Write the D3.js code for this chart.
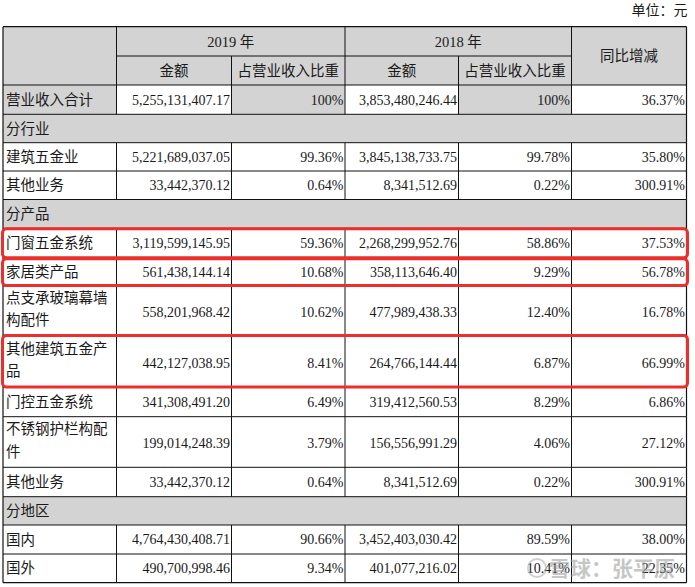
<!DOCTYPE html>
<html><head><meta charset="utf-8">
<script src="https://cdn.jsdelivr.net/npm/d3@7"></script>
<style>
html,body{margin:0;padding:0;background:#fff;}
svg{display:block;}
</style></head>
<body><svg id="c" width="695" height="587"></svg>
<script>
// ---- data ----
const unitLabel = "单位：元";
const yearLabels = ["2019 年", "2018 年"];
const subHeaders = ["金额", "占营业收入比重"];
const yoyHeader = "同比增减";
const rowLabels = ["营业收入合计","分行业","建筑五金业","其他业务","分产品","门窗五金系统","家居类产品","点支承玻璃幕墙构配件","其他建筑五金产品","门控五金系统","不锈钢护栏构配件","其他业务","分地区","国内","国外"];
const sectionRows = ["分行业","分产品","分地区"];
const amount2019 = [5255131407.17,null,5221689037.05,33442370.12,null,3119599145.95,561438144.14,558201968.42,442127038.95,341308491.20,199014248.39,33442370.12,null,4764430408.71,490700998.46];
const ratio2019  = [100,null,99.36,0.64,null,59.36,10.68,10.62,8.41,6.49,3.79,0.64,null,90.66,9.34];
const amount2018 = [3853480246.44,null,3845138733.75,8341512.69,null,2268299952.76,358113646.40,477989438.33,264766144.44,319412560.53,156556991.29,8341512.69,null,3452403030.42,401077216.02];
const ratio2018  = [100,null,99.78,0.22,null,58.86,9.29,12.40,6.87,8.29,4.06,0.22,null,89.59,10.41];
const yoyChange  = [36.37,null,35.80,300.91,null,37.53,56.78,16.78,66.99,6.86,27.12,300.91,null,38.00,22.35];
const highlighted = ["门窗五金系统","家居类产品","其他建筑五金产品"];
const watermark = "雪球：张平原";

// ---- layout ----
const rowHeights = [29.3,28.4,28.3,28.5,28.8,30,27.7,49,52.5,29.2,50.6,29.4,28.3,29,28.7];
const colEdges = [3,116.5,231.5,345,458.5,571.5,686.5];
const headTop = 26.7, headMid = 56, headBot = 85;
const gray = "#d3d3d3";
const line = "#111";
const numFont = "'Liberation Serif','Times New Roman',serif";
const cjkFont = "'Liberation Serif','Noto Sans CJK SC',sans-serif";

const svg = d3.select("#c");
const fmtAmt = d3.format(",.2f");
const fmtPct = v => v === 100 ? "100%" : d3.format(".2f")(v) + "%";

// row y positions
const rowY = [];
let acc = headBot;
rowHeights.forEach(h => { rowY.push(acc); acc += h; });
const tableBottom = acc;

const gBg = svg.append("g");
const gTxt = svg.append("g");
const gLines = svg.append("g");

// header backgrounds
gBg.append("rect").attr("x", colEdges[0]).attr("y", headTop).attr("width", colEdges[6]-colEdges[0]).attr("height", headBot-headTop).attr("fill", gray);

// body backgrounds
rowLabels.forEach((lab, i) => {
  const y = rowY[i], h = rowHeights[i];
  if (sectionRows.includes(lab)) {
    gBg.append("rect").attr("x", colEdges[0]).attr("y", y).attr("width", colEdges[6]-colEdges[0]).attr("height", h).attr("fill", gray);
  }
});
// total row: label and ratio cells gray
gBg.append("rect").attr("x", colEdges[0]).attr("y", rowY[0]).attr("width", colEdges[1]-colEdges[0]).attr("height", rowHeights[0]).attr("fill", gray);
[2,4].forEach(c => gBg.append("rect").attr("x", colEdges[c]).attr("y", rowY[0]).attr("width", colEdges[c+1]-colEdges[c]).attr("height", rowHeights[0]).attr("fill", gray));

// header text
function txt(x, y, s, anchor, size, fam) {
  return gTxt.append("text").attr("x", x).attr("y", y).attr("dy", "0.35em")
    .attr("text-anchor", anchor).attr("font-size", size).attr("font-family", fam)
    .attr("fill", "#1a1a1a").text(s);
}
txt(colEdges[6]+1, 10, unitLabel, "end", 14, cjkFont);
yearLabels.forEach((y, k) => {
  const x0 = colEdges[1+2*k], x1 = colEdges[3+2*k];
  txt((x0+x1)/2, (headTop+headMid)/2+0.5, y, "middle", 14.5, cjkFont);
  subHeaders.forEach((s, j) => {
    const a = colEdges[1+2*k+j], b = colEdges[2+2*k+j];
    txt((a+b)/2, (headMid+headBot)/2, s, "middle", 14.5, cjkFont);
  });
});
txt((colEdges[5]+colEdges[6])/2, (headTop+headBot)/2, yoyHeader, "middle", 14.5, cjkFont);

// body text
const cols = [amount2019, ratio2019, amount2018, ratio2018, yoyChange];
const fmts = [fmtAmt, fmtPct, fmtAmt, fmtPct, fmtPct];
const charsPerLine = 7;
rowLabels.forEach((lab, i) => {
  const y = rowY[i], h = rowHeights[i], cy = y + h/2;
  const lines = [];
  for (let k = 0; k < lab.length; k += charsPerLine) lines.push(lab.slice(k, k+charsPerLine));
  const lh = 22.5;
  lines.forEach((l, k) => {
    txt(colEdges[0]+3, cy + (k - (lines.length-1)/2)*lh - (lines.length>1?1.5:0), l, "start", 14.5, cjkFont);
  });
  cols.forEach((arr, c) => {
    const v = arr[i];
    if (v === null || v === undefined) return;
    txt(colEdges[c+2]-1.5, cy + (lines.length>1?1.5:0), fmts[c](v), "end", 14, numFont);
  });
});

// grid lines
const L = (x1,y1,x2,y2,w) => gLines.append("line").attr("x1",x1).attr("y1",y1).attr("x2",x2).attr("y2",y2).attr("stroke",line).attr("stroke-width",w||1);
L(colEdges[0], headTop, colEdges[6], headTop, 1.2);
L(colEdges[1], headMid, colEdges[5], headMid);
L(colEdges[0], headBot, colEdges[6], headBot);
// header verticals
L(colEdges[0], headTop, colEdges[0], headBot, 1.2);
L(colEdges[1], headTop, colEdges[1], headBot);
L(colEdges[3], headTop, colEdges[3], headBot);
L(colEdges[5], headTop, colEdges[5], headBot);
L(colEdges[6], headTop, colEdges[6], headBot, 1.2);
L(colEdges[2], headMid, colEdges[2], headBot);
L(colEdges[4], headMid, colEdges[4], headBot);
rowLabels.forEach((lab, i) => {
  const y = rowY[i], h = rowHeights[i];
  L(colEdges[0], y+h, colEdges[6], y+h, i === rowLabels.length-1 ? 1.2 : 1);
  L(colEdges[0], y, colEdges[0], y+h, 1.2);
  L(colEdges[6], y, colEdges[6], y+h, 1.2);
  if (!sectionRows.includes(lab)) {
    for (let c = 1; c < 6; c++) L(colEdges[c], y, colEdges[c], y+h);
  }
});

// highlight boxes
const gHi = svg.append("g");
rowLabels.forEach((lab, i) => {
  if (!highlighted.includes(lab)) return;
  const y = rowY[i], h = rowHeights[i];
  gHi.append("rect").attr("x", colEdges[0]-0.5).attr("y", y+0.5).attr("width", colEdges[6]-colEdges[0]+1.5).attr("height", h-1)
    .attr("rx", 4).attr("ry", 4).attr("fill", "none").attr("stroke", "#ec2f2a").attr("stroke-width", 3);
});

// watermark
const gw = svg.append("g").attr("opacity", 0.55);
gw.append("circle").attr("cx", 537).attr("cy", 568).attr("r", 9).attr("fill", "none").attr("stroke", "#aaa").attr("stroke-width", 2);
gw.append("text").attr("x", 549).attr("y", 568).attr("dy", "0.36em").attr("font-size", 21).attr("font-family", "'Noto Sans CJK SC',sans-serif")
  .attr("fill", "#999").attr("font-weight", "bold").text(watermark);
</script></body></html>
